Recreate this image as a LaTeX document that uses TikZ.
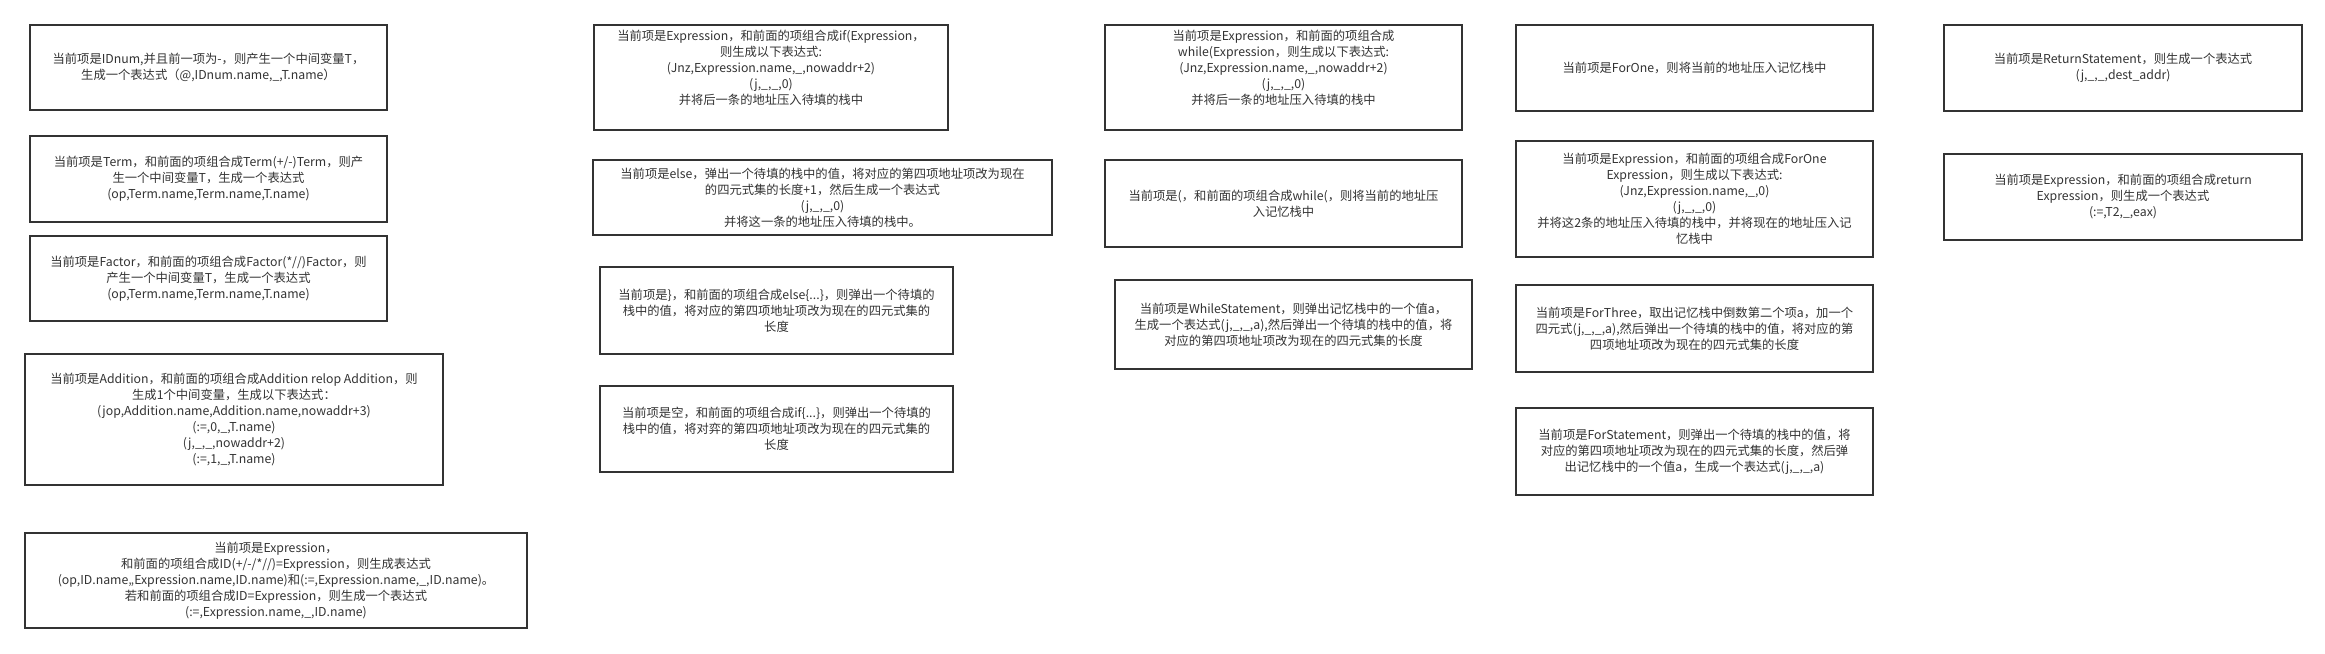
\documentclass[tikz,border=0pt]{standalone}
\usepackage{fontspec}
\setmainfont{Noto Sans CJK SC}
\definecolor{framegray}{HTML}{333333}
\definecolor{inkgray}{HTML}{333333}

\begin{document}
\begin{tikzpicture}[x=1pt,y=-1pt,
		actbox/.style={draw=framegray,line width=1.6pt,inner sep=0pt,align=center,text=inkgray,font={\fontsize{12.3}{16}\selectfont}},
		acttext/.style={inner sep=0pt,align=center,text=inkgray,font={\fontsize{12.3}{16}\selectfont}}]
		\useasboundingbox[fill=white] (0,0) rectangle (2325,653);
		% column 1
		\node[actbox,minimum width=357,minimum height=85] (idnum) at (208.5,67.5) {当前项是IDnum,并且前一项为-，则产生一个中间变量T，\\生成一个表达式（@,IDnum.name,\_,T.name）};
		\node[actbox,minimum width=357,minimum height=86] (term) at (208.5,179) {当前项是Term，和前面的项组合成Term(+/-)Term，则产\\生一个中间变量T，生成一个表达式\\(op,Term.name,Term.name,T.name)};
		\node[actbox,minimum width=357,minimum height=85] (factor) at (208.5,278.5) {当前项是Factor，和前面的项组合成Factor(*//)Factor，则\\产生一个中间变量T，生成一个表达式\\(op,Term.name,Term.name,T.name)};
		\node[actbox,minimum width=418,minimum height=131] (addition) at (234,419.5) {当前项是Addition，和前面的项组合成Addition relop Addition，则\\生成1个中间变量，生成以下表达式：\\(jop,Addition.name,Addition.name,nowaddr+3)\\(:=,0,\_,T.name)\\(j,\_,\_,nowaddr+2)\\(:=,1,\_,T.name)};
		\node[actbox,minimum width=502,minimum height=95] (assign) at (276,580.5) {当前项是Expression，\\和前面的项组合成ID(+/-/*//)=Expression，则生成表达式\\(op,ID.name,,Expression.name,ID.name)和(:=,Expression.name,\_,ID.name)。\\若和前面的项组合成ID=Expression，则生成一个表达式\\(:=,Expression.name,\_,ID.name)};
		% column 2
		\node[actbox,minimum width=354,minimum height=105] (ifexpr) at (771,77.5) {};
		\node[acttext] (ifexprtext) at (771,68) {当前项是Expression，和前面的项组合成if(Expression，\\则生成以下表达式:\\(Jnz,Expression.name,\_,nowaddr+2)\\(j,\_,\_,0)\\并将后一条的地址压入待填的栈中};
		\node[actbox,minimum width=459,minimum height=75] (else) at (822.5,197.5) {当前项是else，弹出一个待填的栈中的值，将对应的第四项地址项改为现在\\的四元式集的长度+1，然后生成一个表达式\\(j,\_,\_,0)\\并将这一条的地址压入待填的栈中。};
		\node[actbox,minimum width=353,minimum height=87] (elseend) at (776.5,310.5) {当前项是\}，和前面的项组合成else\{...\}，则弹出一个待填的\\栈中的值，将对应的第四项地址项改为现在的四元式集的\\长度};
		\node[actbox,minimum width=353,minimum height=86] (ifend) at (776.5,429) {当前项是空，和前面的项组合成if\{...\}，则弹出一个待填的\\栈中的值，将对弈的第四项地址项改为现在的四元式集的\\长度};
		% column 3
		\node[actbox,minimum width=357,minimum height=105] (whileexpr) at (1283.5,77.5) {};
		\node[acttext] (whileexprtext) at (1283.5,68) {当前项是Expression，和前面的项组合成\\while(Expression，则生成以下表达式:\\(Jnz,Expression.name,\_,nowaddr+2)\\(j,\_,\_,0)\\并将后一条的地址压入待填的栈中};
		\node[actbox,minimum width=357,minimum height=87] (whileopen) at (1283.5,203.5) {当前项是(，和前面的项组合成while(，则将当前的地址压\\入记忆栈中};
		\node[actbox,minimum width=357,minimum height=89] (whilestmt) at (1293.5,324.5) {当前项是WhileStatement，则弹出记忆栈中的一个值a，\\生成一个表达式(j,\_,\_,a),然后弹出一个待填的栈中的值，将\\对应的第四项地址项改为现在的四元式集的长度};
		% column 4
		\node[actbox,minimum width=357,minimum height=86] (forone) at (1694.5,68) {当前项是ForOne，则将当前的地址压入记忆栈中};
		\node[actbox,minimum width=357,minimum height=116] (forexpr) at (1694.5,199) {当前项是Expression，和前面的项组合成ForOne\\Expression，则生成以下表达式:\\(Jnz,Expression.name,\_,0)\\(j,\_,\_,0)\\并将这2条的地址压入待填的栈中，并将现在的地址压入记\\忆栈中};
		\node[actbox,minimum width=357,minimum height=87] (forthree) at (1694.5,328.5) {当前项是ForThree，取出记忆栈中倒数第二个项a，加一个\\四元式(j,\_,\_,a),然后弹出一个待填的栈中的值，将对应的第\\四项地址项改为现在的四元式集的长度};
		\node[actbox,minimum width=357,minimum height=87] (forstmt) at (1694.5,451.5) {当前项是ForStatement，则弹出一个待填的栈中的值，将\\对应的第四项地址项改为现在的四元式集的长度，然后弹\\出记忆栈中的一个值a，生成一个表达式(j,\_,\_,a)};
		% column 5
		\node[actbox,minimum width=358,minimum height=86] (retstmt) at (2123,68) {当前项是ReturnStatement，则生成一个表达式\\(j,\_,\_,dest\_addr)};
		\node[actbox,minimum width=358,minimum height=86] (retexpr) at (2123,197) {当前项是Expression，和前面的项组合成return\\Expression，则生成一个表达式\\(:=,T2,\_,eax)};
\end{tikzpicture}
\end{document}
